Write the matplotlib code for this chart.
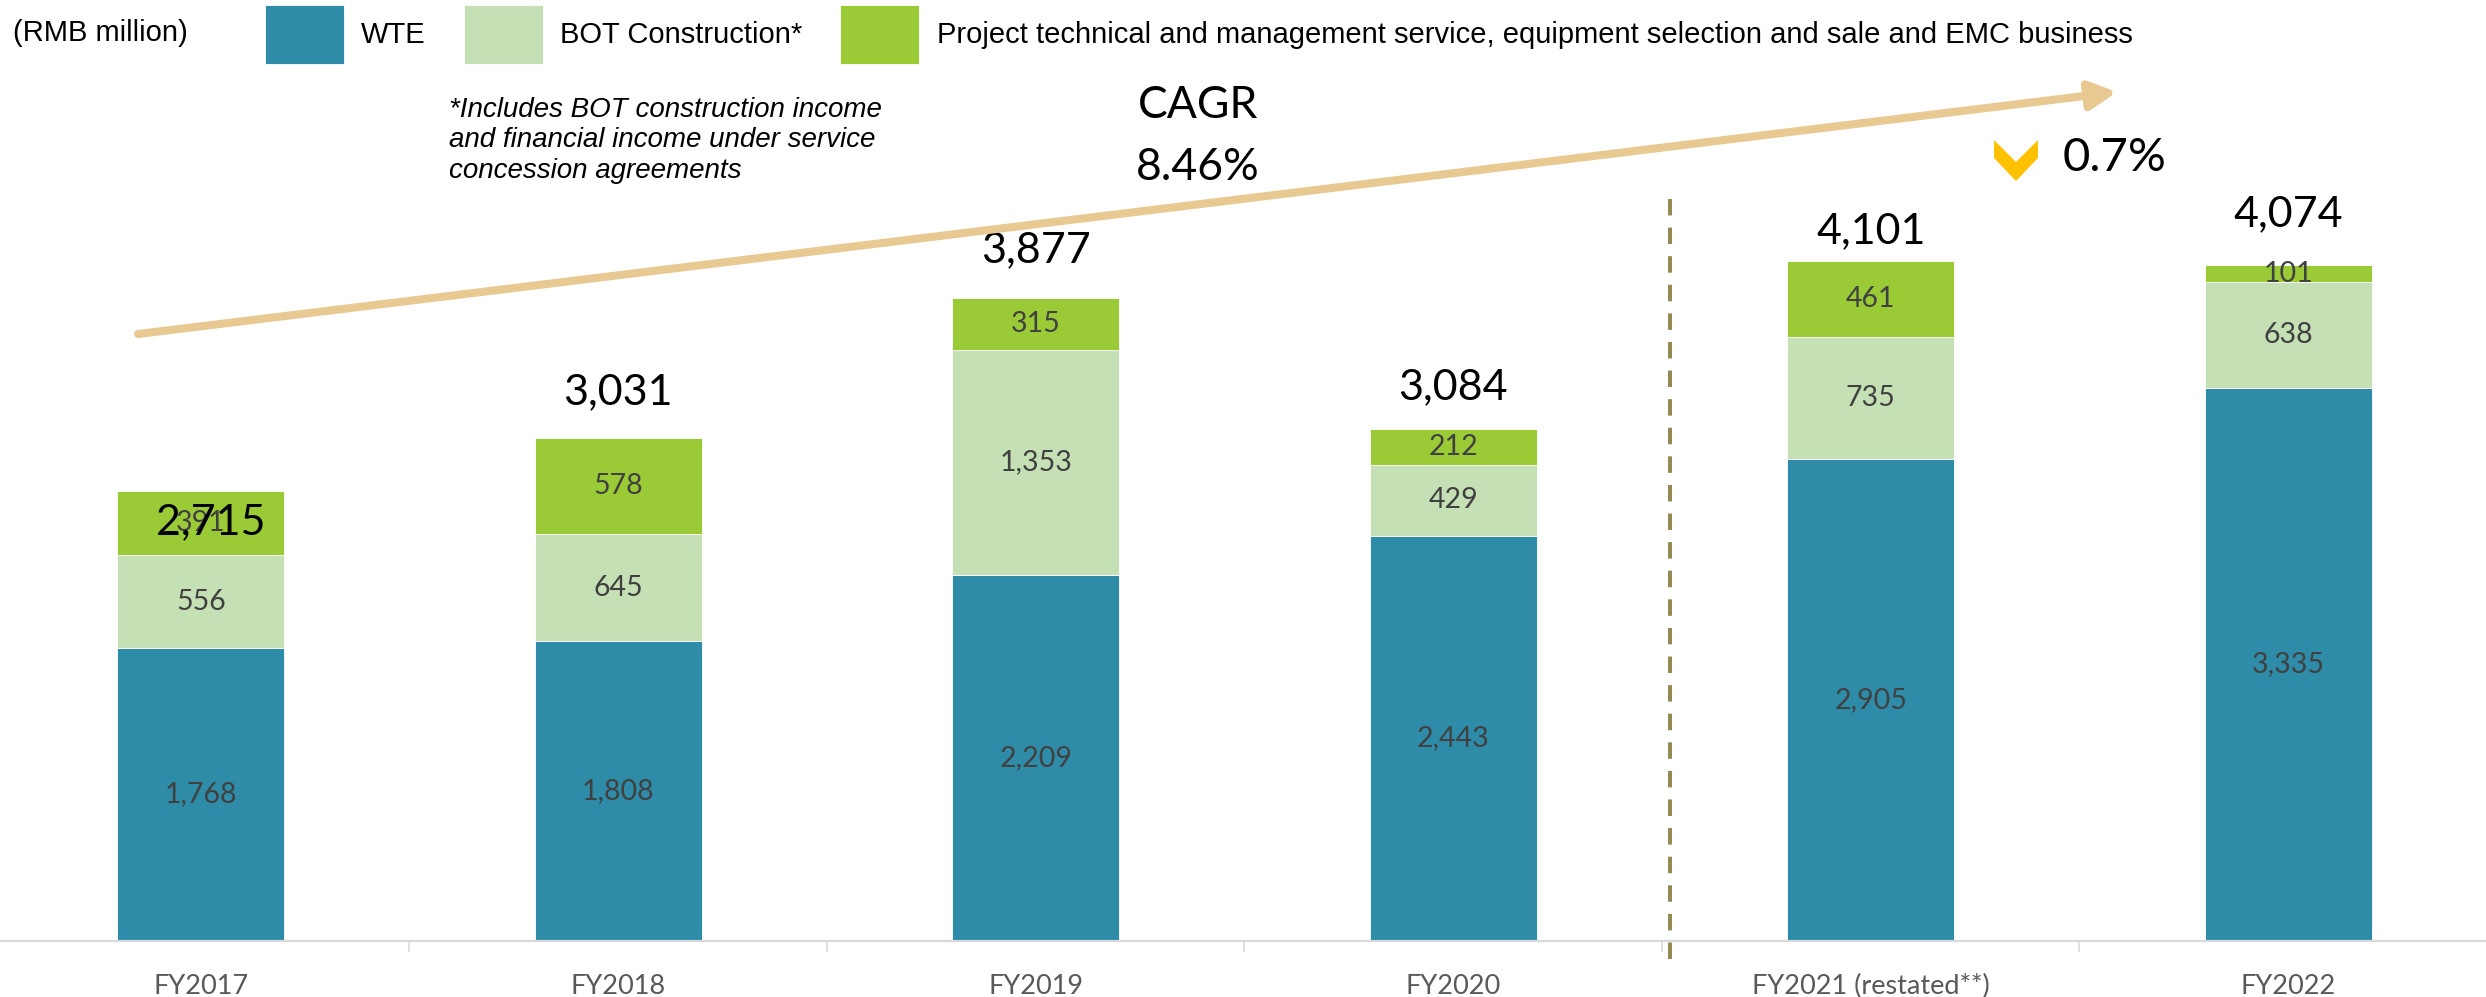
import matplotlib
matplotlib.use("Agg")
import matplotlib.pyplot as plt
from matplotlib import font_manager
from matplotlib.patches import FancyArrowPatch, Polygon

# ---------------- data ----------------
categories = ["FY2017", "FY2018", "FY2019", "FY2020", "FY2021 (restated**)", "FY2022"]
wte = [1768, 1808, 2209, 2443, 2905, 3335]
bot = [556, 645, 1353, 429, 735, 638]
project = [391, 578, 315, 212, 461, 101]
series_labels = [
    "WTE",
    "BOT Construction*",
    "Project technical and management service, equipment selection and sale and EMC business",
]
unit_text = "(RMB million)"
footnote = ("*Includes BOT construction income\n"
            "and financial income under service\n"
            "concession agreements")
cagr_title = "CAGR"
cagr_value = "8.46%"
change_value = "0.7%"

# ---------------- styling ----------------
W, H = 2486, 997
c_wte, c_bot, c_prj = "#2E8CA8", "#C5E0B4", "#9ACB37"
names = {f.name for f in font_manager.fontManager.ttflist}
num_font = "Lato" if "Lato" in names else "DejaVu Sans"
arial = "Liberation Sans" if "Liberation Sans" in names else "DejaVu Sans"

def fx(px):
    return px / W

def fy(py):
    return 1 - py / H

fig = plt.figure(figsize=(W / 100, H / 100), dpi=100)
ax = fig.add_axes([fx(-8), (H - 941) / H, 2505 / W, 829.5 / H])

x = list(range(len(categories)))
bw = 0.40
b1 = ax.bar(x, wte, bw, color=c_wte, edgecolor="white", linewidth=0.6)
bottom2 = wte
b2 = ax.bar(x, bot, bw, bottom=bottom2, color=c_bot, edgecolor="white", linewidth=0.6)
bottom3 = [a + b for a, b in zip(wte, bot)]
b3 = ax.bar(x, project, bw, bottom=bottom3, color=c_prj, edgecolor="white", linewidth=0.6)
totals = [a + b + c for a, b, c in zip(wte, bot, project)]

ax.set_xlim(-0.5, len(categories) - 0.5)
ax.set_ylim(0, 5000)

# segment labels
for i in x:
    for vals, base in ((wte, [0] * len(x)), (bot, bottom2), (project, bottom3)):
        ax.text(i, base[i] + vals[i] / 2, f"{vals[i]:,}", ha="center", va="center",
                fontsize=20.5, color="#404040", family=num_font)

# total labels (offsets in points, as placed in the reference)
total_offsets = [(7, -23), (0, 33), (0, 34), (0, 30), (0, 21), (0, 37)]
for i in x:
    ax.annotate(f"{totals[i]:,}", xy=(i, totals[i]), xytext=total_offsets[i],
                textcoords="offset points", ha="center", va="center",
                fontsize=31, color="black", family=num_font)

# axes styling
for s in ("left", "right", "top"):
    ax.spines[s].set_visible(False)
ax.spines["bottom"].set_color("#D9D9D9")
ax.spines["bottom"].set_linewidth(1.6)
ax.set_yticks([])
ax.set_xticks(x)
ax.set_xticklabels(categories, fontsize=19.5, color="#595959", family=num_font)
ax.tick_params(axis="x", which="major", length=0, pad=24)
ax.set_xticks([i + 0.5 for i in x[:-1]], minor=True)
ax.tick_params(axis="x", which="minor", length=8, width=1.2, color="#D9D9D9")

# dashed separator between FY2020 and FY2021
ax.axvline(3.52, ymin=-0.022, ymax=0.909, color="#948A54", lw=2.9,
           dashes=(4.1, 3.0), clip_on=False)

# CAGR arrow
arrow = FancyArrowPatch((fx(138), fy(334)), (fx(2117), fy(92)), transform=fig.transFigure,
                        arrowstyle="-|>,head_length=0.5,head_width=0.26", mutation_scale=32,
                        lw=5.8, color="#E8C992", shrinkA=0, shrinkB=0)
fig.add_artist(arrow)
fig.text(fx(1198), fy(106), cagr_title, ha="center", va="center", fontsize=32, family=num_font)
fig.text(fx(1198), fy(168), cagr_value, ha="center", va="center", fontsize=32, family=num_font)

# down chevron + change value
chev = [(1994, 140), (1994, 158), (2016, 181), (2038, 158), (2038, 140), (2016, 162)]
fig.add_artist(Polygon([(fx(a), fy(b)) for a, b in chev], closed=True,
                       transform=fig.transFigure, color="#FFC000", lw=0))
fig.text(fx(2063), fy(158), change_value, ha="left", va="center", fontsize=34, family=num_font)

# unit, legend, footnote
fig.text(fx(13), fy(33), unit_text, ha="left", va="center", fontsize=21, family=arial)
fig.legend(handles=[b1, b2, b3], labels=series_labels, loc="upper left",
           bbox_to_anchor=(fx(265), fy(5)), ncol=3, frameon=False,
           handlelength=2.7, handleheight=2.75, handletextpad=0.6, columnspacing=1.3,
           borderpad=0, borderaxespad=0, prop={"family": arial, "size": 21})
fig.text(fx(449), fy(97), footnote, ha="left", va="top", fontsize=20, style="italic",
         family=arial, linespacing=1.22)

fig.savefig("out.png", dpi=100)
